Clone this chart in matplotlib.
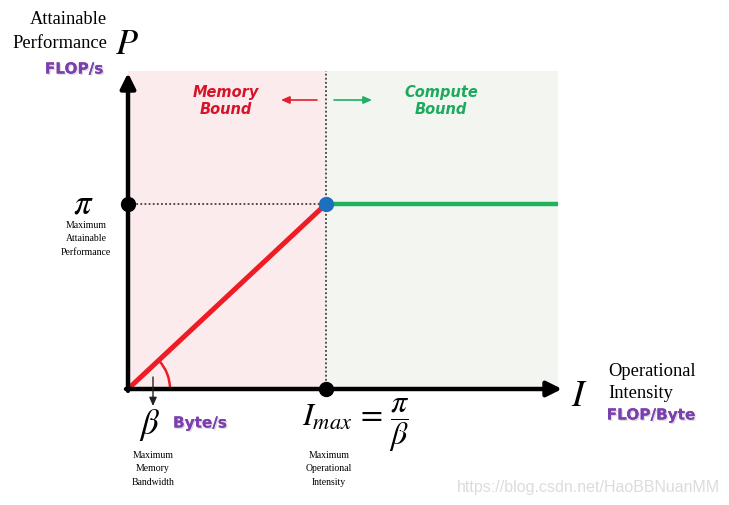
import numpy as np
import matplotlib
matplotlib.use("Agg")
import matplotlib.pyplot as plt
from matplotlib.patches import Arc
import matplotlib.patheffects as pe

plt.rcParams['mathtext.fontset'] = 'stix'

# ---- data (normalised roofline) ----
peak_perf = 1.0          # pi  (FLOP/s)
bandwidth = 1.0          # beta (Byte/s)  -> slope
I_end = 2.17             # right end of chart region
P_top = 1.72             # top of shaded region
I_ridge = peak_perf / bandwidth
I_line = np.array([0.0, I_ridge])
P_line = bandwidth * I_line
I_flat = np.array([I_ridge, I_end])
P_flat = np.array([peak_perf, peak_perf])

W, H = 729, 506
fig = plt.figure(figsize=(W / 100, H / 100), dpi=100)
ax = fig.add_axes([0, 0, 1, 1])
# pixel mapping: origin at (128, 390); 198 px per I unit, 185 px per P unit
x0p, y0p, sx, sy = 128, 390, 198, 185
ax.set_xlim(-x0p / sx, (W - x0p) / sx)
ax.set_ylim((y0p - H) / sy, y0p / sy)
ax.axis('off')

def fp(xp, yp):
    return (xp / W, 1 - yp / H)

serif = 'Liberation Serif'
purple = '#7B3FB0'
red = '#EE1C25'

# shaded regions
ax.fill_between([0, I_ridge], 0, P_top, color='#FCEBEC', lw=0, zorder=0)
ax.fill_between([I_ridge, I_end], 0, P_top, color='#F3F6F0', lw=0, zorder=0)

# dotted guide lines
ax.plot([0, I_ridge], [peak_perf, peak_perf], ls=(0, (1.2, 1.5)), color='#222222', lw=1.1, zorder=2)
ax.plot([I_ridge, I_ridge], [0, P_top], ls=(0, (1.2, 1.5)), color='#222222', lw=1.1, zorder=2)

# roofline
ax.plot(I_line, P_line, color=red, lw=3.6, solid_capstyle='butt', zorder=3)
ax.plot(I_flat, P_flat, color='#1EB35A', lw=3.2, solid_capstyle='butt', zorder=3)

# angle arc
r = 42
ang = np.degrees(np.arctan(bandwidth))
ax.add_patch(Arc((0, 0), 2 * r / sx, 2 * r / sy, theta1=0, theta2=ang,
                 color=red, lw=1.8, zorder=3))

# axes arrows
ax.annotate('', xy=(0, (y0p - 74) / sy), xytext=(0, -0.01),
            arrowprops=dict(arrowstyle='-|>,head_length=0.9,head_width=0.45',
                            lw=3.2, color='black', shrinkA=0, shrinkB=0), zorder=4)
ax.annotate('', xy=((562 - x0p) / sx, 0), xytext=(-0.01, 0),
            arrowprops=dict(arrowstyle='-|>,head_length=0.9,head_width=0.45',
                            lw=3.2, color='black', shrinkA=0, shrinkB=0), zorder=4)

# dots
ax.plot([0], [peak_perf], 'o', color='black', ms=10, zorder=5)
ax.plot([I_ridge], [0], 'o', color='black', ms=10, zorder=5)
ax.plot([I_ridge], [peak_perf], 'o', color='#1F6FBF', ms=10, zorder=6)

# beta small arrow
ax.annotate('', xy=((153 - x0p) / sx, (y0p - 407) / sy), xytext=((153 - x0p) / sx, (y0p - 378) / sy),
            arrowprops=dict(arrowstyle='-|>,head_length=0.5,head_width=0.22', lw=1.0,
                            color='#222222', shrinkA=0, shrinkB=0), zorder=4)

# memory / compute arrows
ax.annotate('', xy=((281 - x0p) / sx, (y0p - 101) / sy), xytext=((317 - x0p) / sx, (y0p - 101) / sy),
            arrowprops=dict(arrowstyle='-|>,head_length=0.5,head_width=0.22', lw=1.2,
                            color='#E0202E', shrinkA=0, shrinkB=0), zorder=4)
ax.annotate('', xy=((372 - x0p) / sx, (y0p - 101) / sy), xytext=((334 - x0p) / sx, (y0p - 101) / sy),
            arrowprops=dict(arrowstyle='-|>,head_length=0.5,head_width=0.22', lw=1.2,
                            color='#1DAF65', shrinkA=0, shrinkB=0), zorder=4)

# texts
T = fig.transFigure
fig.text(*fp(107, 20), 'Attainable', ha='right', va='center', family=serif, fontsize=13.3, transform=T)
fig.text(*fp(107, 43), 'Performance', ha='right', va='center', family=serif, fontsize=13.3, transform=T)
fig.text(*fp(127, 44), r'$P$', ha='center', va='center', fontsize=26, transform=T)
shadow = [pe.withSimplePatchShadow(offset=(1, -1), shadow_rgbFace='#bbbbbb', alpha=0.5), pe.Normal()]
fig.text(*fp(74, 70), 'FLOP/s', ha='center', va='center', family='DejaVu Sans', weight='bold',
         fontsize=11, color=purple, transform=T, path_effects=shadow)

fig.text(*fp(83, 203), r'$\pi$', ha='center', va='center', fontsize=25, transform=T)
fig.text(*fp(86, 239), 'Maximum\nAttainable\nPerformance', ha='center', va='center', family=serif,
         fontsize=7, linespacing=1.65, transform=T)

fig.text(*fp(150, 425), r'$\beta$', ha='center', va='center', fontsize=25, transform=T)
fig.text(*fp(200, 424), 'Byte/s', ha='center', va='center', family='DejaVu Sans', weight='bold',
         fontsize=11, color=purple, transform=T, path_effects=shadow)
fig.text(*fp(153, 469), 'Maximum\nMemory\nBandwidth', ha='center', va='center', family=serif,
         fontsize=7, linespacing=1.65, transform=T)

fig.text(*fp(356, 425), r'$I_{max}\,=\,\dfrac{\pi}{\beta}$', ha='center', va='center', fontsize=23, transform=T)
fig.text(*fp(329, 469), 'Maximum\nOperational\nIntensity', ha='center', va='center', family=serif,
         fontsize=7, linespacing=1.65, transform=T)

fig.text(*fp(579, 396), r'$I$', ha='center', va='center', fontsize=27, transform=T)
fig.text(*fp(608, 372), 'Operational', ha='left', va='center', family=serif, fontsize=13.3, transform=T)
fig.text(*fp(608, 394), 'Intensity', ha='left', va='center', family=serif, fontsize=13.3, transform=T)
fig.text(*fp(651, 416), 'FLOP/Byte', ha='center', va='center', family='DejaVu Sans', weight='bold',
         fontsize=11, color=purple, transform=T, path_effects=shadow)

fig.text(*fp(226, 101), 'Memory\nBound', ha='center', va='center', family='DejaVu Sans', weight='bold',
         style='italic', fontsize=10.5, color='#D7132A', linespacing=1.15, transform=T)
fig.text(*fp(441, 101), 'Compute\nBound', ha='center', va='center', family='DejaVu Sans', weight='bold',
         style='italic', fontsize=10.5, color='#1DAA5E', linespacing=1.15, transform=T)

fig.text(*fp(589, 488), 'https://blog.csdn.net/HaoBBNuanMM', ha='center', va='center',
         family='Liberation Sans', fontsize=11.5, color='#DCDCDC', transform=T)

fig.savefig('out.png', dpi=100)
